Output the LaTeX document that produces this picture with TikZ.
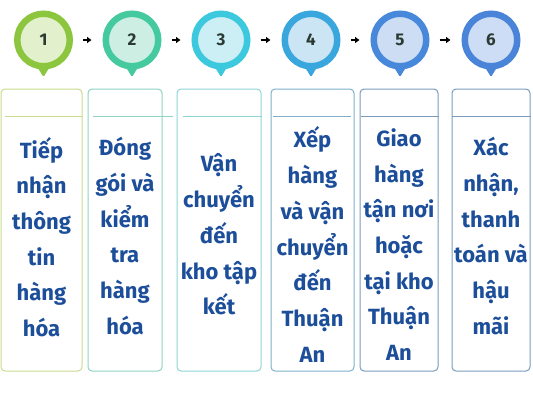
\documentclass[tikz,border=0pt]{standalone}
\usepackage{fontspec}
\setmainfont{Fira Sans}
\usetikzlibrary{calc,arrows.meta}
\definecolor{ringA}{HTML}{8CC63F}\definecolor{inA}{HTML}{E2F0CB}\definecolor{boxA}{HTML}{C9DB8C}
\definecolor{ringB}{HTML}{45C99E}\definecolor{inB}{HTML}{CDEFE3}\definecolor{boxB}{HTML}{8FD3C3}
\definecolor{ringC}{HTML}{3CC8DD}\definecolor{inC}{HTML}{CBEFF5}\definecolor{boxC}{HTML}{8FD4D4}
\definecolor{ringD}{HTML}{3AA6DE}\definecolor{inD}{HTML}{CBE5F4}\definecolor{boxD}{HTML}{7FB0CC}
\definecolor{ringE}{HTML}{4788DA}\definecolor{inE}{HTML}{CCDDF4}\definecolor{boxE}{HTML}{7A9CBC}
\definecolor{ringF}{HTML}{4A84D8}\definecolor{inF}{HTML}{CDDDF5}\definecolor{boxF}{HTML}{7A9CBC}
\definecolor{txt}{HTML}{1C4E9A}
\definecolor{num}{HTML}{2B3A33}
\tikzset{
  pinnode/.style={circle, line width=6.5pt, minimum size=52.5pt, inner sep=0pt, outer sep=3.25pt,
    font=\fontsize{17}{20}\selectfont\bfseries, text=num},
  stepbox/.style={rounded corners=4pt, line width=1pt, minimum height=282pt, inner sep=0pt},
  steptext/.style={align=center, text=txt, font=\fontsize{22}{35.7}\selectfont\bfseries, inner sep=0pt},
  arr/.style={line width=1.7pt, -{Triangle[length=4.5pt,width=6pt]}, shorten <=10pt, shorten >=11pt},
}
\newcommand{\pointer}[2]{%
  \fill[#2, rounded corners=1.2pt] ($(#1.south)+(-8,-5.5)$) -- ($(#1.south)+(0,7.5)$) -- ($(#1.south)+(8,-5.5)$) -- cycle;}
\begin{document}
\begin{tikzpicture}[x=1pt,y=-1pt]
\useasboundingbox (0,0) rectangle (533,400);
\fill[white] (0,0) rectangle (533,400);
% circles
\node[pinnode, draw=ringA, fill=inA] (c1) at (43.5,40) {1};
\node[pinnode, draw=ringB, fill=inB] (c2) at (132,40) {2};
\node[pinnode, draw=ringC, fill=inC] (c3) at (221,40) {3};
\node[pinnode, draw=ringD, fill=inD] (c4) at (311,40) {4};
\node[pinnode, draw=ringE, fill=inE] (c5) at (400,40) {5};
\node[pinnode, draw=ringF, fill=inF] (c6) at (491,40) {6};
\pointer{c1}{ringA}\pointer{c2}{ringB}\pointer{c3}{ringC}
\pointer{c4}{ringD}\pointer{c5}{ringE}\pointer{c6}{ringF}
% arrows
\draw[arr] (c1) -- (c2);
\draw[arr] (c2) -- (c3);
\draw[arr] (c3) -- (c4);
\draw[arr] (c4) -- (c5);
\draw[arr] (c5) -- (c6);
% boxes
\node[stepbox, draw=boxA, minimum width=81pt] (b1) at (41.5,230) {};
\node[stepbox, draw=boxB, minimum width=74pt] (b2) at (125,230) {};
\node[stepbox, draw=boxC, minimum width=84pt] (b3) at (219,230) {};
\node[stepbox, draw=boxD, minimum width=83pt] (b4) at (312.5,230) {};
\node[stepbox, draw=boxE, minimum width=78pt] (b5) at (399,230) {};
\node[stepbox, draw=boxF, minimum width=78pt] (b6) at (491,230) {};
% header lines
\draw[boxA, line width=1.2pt] ($(b1.north west)+(4,28)$) -- ($(b1.north east)+(0,28)$);
\draw[boxB, line width=1.2pt] ($(b2.north west)+(5,28)$) -- ($(b2.north east)+(10,28)$);
\draw[boxC, line width=1.2pt] ($(b3.north west)+(6,28)$) -- ($(b3.north east)+(0,28)$);
\draw[boxD, line width=1.2pt] ($(b4.north west)+(2,28)$) -- ($(b4.north east)+(-4,28)$);
\draw[boxE, line width=1.2pt] ($(b5.north west)+(1,28)$) -- ($(b5.north east)+(0,28)$);
\draw[boxF, line width=1.2pt] ($(b6.north west)+(0,28)$) -- ($(b6.north east)+(0,28)$);
% texts
\node[steptext] (t1) at (41.5,237) {Tiếp\\nhận\\thông\\tin\\hàng\\hóa};
\node[steptext] (t2) at (125,236) {Đóng\\gói và\\kiểm\\tra\\hàng\\hóa};
\node[steptext] (t3) at (219,234.5) {Vận\\chuyển\\đến\\kho tập\\kết};
\node[steptext] (t4) at (312.5,244.5) {Xếp\\hàng\\và vận\\chuyển\\đến\\Thuận\\An};
\node[steptext] (t5) at (399,244.5) {Giao\\hàng\\tận nơi\\hoặc\\tại kho\\Thuận\\An};
\node[steptext] (t6) at (491,236) {Xác\\nhận,\\thanh\\toán và\\hậu\\mãi};
\end{tikzpicture}
\end{document}
